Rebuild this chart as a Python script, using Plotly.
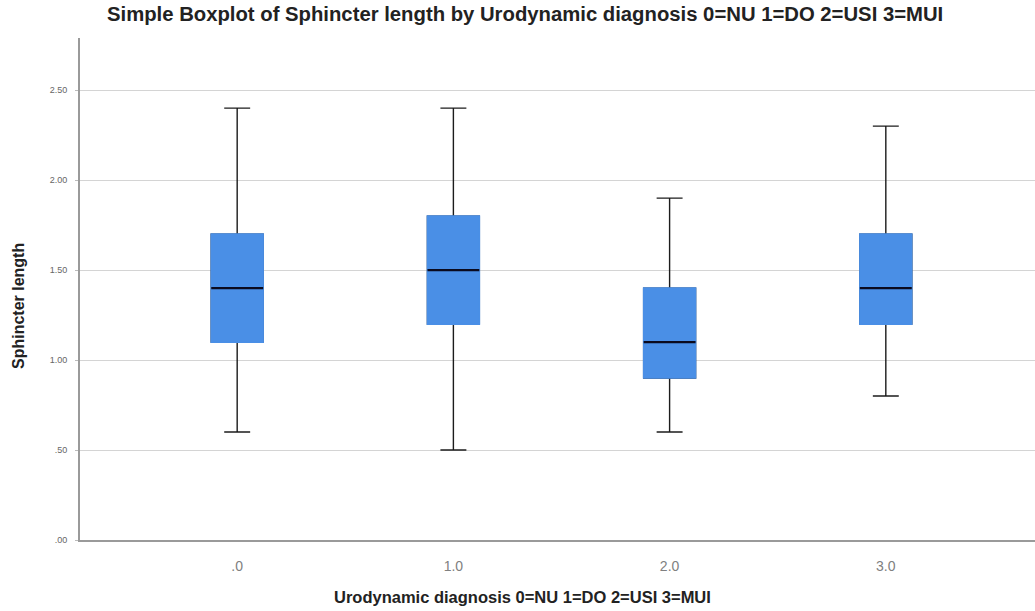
import plotly.graph_objects as go

# Urodynamic diagnosis groups (0=NU 1=DO 2=USI 3=MUI)
groups = [0, 1, 2, 3]
group_labels = [".0", "1.0", "2.0", "3.0"]

# Sphincter length summary per group
lower_whisker = [0.6, 0.5, 0.6, 0.8]
q1 = [1.1, 1.2, 0.9, 1.2]
median = [1.4, 1.5, 1.1, 1.4]
q3 = [1.7, 1.8, 1.4, 1.7]
upper_whisker = [2.4, 2.4, 1.9, 2.3]

y_ticks = [0, 0.5, 1.0, 1.5, 2.0, 2.5]
y_tick_labels = [".00", ".50", "1.00", "1.50", "2.00", "2.50"]

BLUE = "#4A8FE6"
DARK = "#1c1c1c"
BOX_W = 0.24

fig = go.Figure()

# whiskers and caps (black)
fig.add_trace(go.Box(
    x=groups, q1=q1, median=median, q3=q3,
    lowerfence=lower_whisker, upperfence=upper_whisker,
    width=BOX_W, whiskerwidth=0.5,
    line=dict(color=DARK, width=1.4), fillcolor="rgba(0,0,0,0)",
    boxpoints=False, hoverinfo="skip", showlegend=False,
))
# filled box body without outline
fig.add_trace(go.Box(
    x=groups, q1=q1, median=median, q3=q3,
    lowerfence=q1, upperfence=q3,
    width=BOX_W, whiskerwidth=0,
    line=dict(color=BLUE, width=1.6), fillcolor=BLUE,
    boxpoints=False, hoverinfo="skip", showlegend=False,
))
# median bars
fig.add_trace(go.Box(
    x=groups, q1=median, median=median, q3=median,
    lowerfence=median, upperfence=median,
    width=BOX_W, whiskerwidth=0,
    line=dict(color="#0a0a1e", width=2.4), fillcolor="rgba(0,0,0,0)",
    boxpoints=False, hoverinfo="skip", showlegend=False,
))

FONT = "Liberation Sans, Arial, sans-serif"

# plot area in pixels: x 80..1035, y 38..540
def px_x(px):
    return (px - 80) / 955


def px_y(py):
    return (540 - py) / 502


fig.update_layout(
    width=1035, height=611,
    margin=dict(l=80, r=0, t=38, b=71),
    paper_bgcolor="white", plot_bgcolor="white",
    boxmode="overlay",
    showlegend=False,
    font=dict(family=FONT),
    xaxis=dict(
        range=[-0.727, 3.69],
        tickmode="array", tickvals=groups, ticktext=group_labels,
        tickfont=dict(size=14, color="#808080"),
        ticklabelstandoff=12,
        showgrid=False, zeroline=False,
        showline=True, linecolor="#9a9a9a", linewidth=2,
        ticks="", ticklen=0,
    ),
    yaxis=dict(
        range=[0, 2.79],
        tickmode="array", tickvals=y_ticks, ticktext=y_tick_labels,
        tickfont=dict(size=9, color="#666666"),
        ticklabelstandoff=6,
        showgrid=True, gridcolor="#d4d4d4", gridwidth=1,
        zeroline=False,
        showline=True, linecolor="#9a9a9a", linewidth=2,
        ticks="outside", ticklen=3, tickcolor="#bbbbbb",
    ),
    annotations=[
        dict(text="<b>Simple Boxplot of Sphincter length by Urodynamic diagnosis 0=NU 1=DO 2=USI 3=MUI</b>",
             x=px_x(525), y=px_y(14), xref="paper", yref="paper",
             xanchor="center", yanchor="middle", showarrow=False,
             font=dict(family=FONT, size=20.3, color="#222222")),
        dict(text="<b>Urodynamic diagnosis 0=NU 1=DO 2=USI 3=MUI</b>",
             x=px_x(522), y=px_y(597), xref="paper", yref="paper",
             xanchor="center", yanchor="middle", showarrow=False,
             font=dict(family=FONT, size=16.5, color="#222222")),
        dict(text="<b>Sphincter length</b>", textangle=-90,
             x=px_x(18), y=px_y(306), xref="paper", yref="paper",
             xanchor="center", yanchor="middle", showarrow=False,
             font=dict(family=FONT, size=16, color="#222222")),
    ],
)

fig.write_html("out.html")
